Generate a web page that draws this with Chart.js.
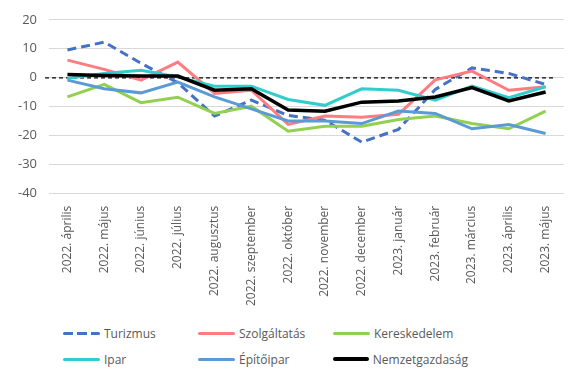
<!DOCTYPE html>
<html>
<head>
<meta charset="utf-8">
<script src="https://cdn.jsdelivr.net/npm/chart.js@4.4.0/dist/chart.umd.min.js"></script>
<style>
  body { margin: 0; background: #fff; font-family: "Open Sans", sans-serif; }
  #wrap { position: relative; width: 580px; height: 379px; }
  #legend {
    position: absolute; left: 63px; top: 320px;
    display: grid; grid-template-columns: 135px 135px 135px; grid-auto-rows: 26px;
    font-size: 12px; color: #595959;
  }
  .item { display: flex; align-items: center; }
  .swatch { width: 37px; height: 3px; margin-right: 4px; border-radius: 2px; }
</style>
</head>
<body>
<div id="wrap">
  <canvas id="chart" width="580" height="310"></canvas>
  <div id="legend"></div>
</div>
<script>
const honapok = [
  "2022. április", "2022. május", "2022. június", "2022. július", "2022. augusztus",
  "2022. szeptember", "2022. október", "2022. november", "2022. december",
  "2023. január", "2023. február", "2023. március", "2023. április", "2023. május"
];

const turizmus       = [9.6, 12.3, 5, -1.7, -13.2, -7.7, -13, -14.6, -22.2, -17.8, -4, 3.4, 1.5, -2.3];
const szolgaltatas   = [6.1, 2.9, -0.8, 5.4, -5.4, -4.3, -16.1, -13.2, -13.6, -12.6, -0.7, 2.3, -4.3, -3.1];
const kereskedelem   = [-6.6, -2.3, -8.6, -6.7, -12.3, -9.8, -18.4, -16.7, -16.7, -14.4, -13.2, -15.8, -17.6, -11.5];
const ipar           = [-0.2, 1.5, 2.6, 0.3, -2.9, -2.9, -7.5, -9.5, -3.8, -4.3, -7.7, -2.9, -6.9, -3.1];
const epitoipar      = [-0.8, -3.8, -5.2, -1.5, -6.6, -10.7, -14.9, -14.9, -15.8, -11.5, -12.3, -17.6, -16.1, -19.2];
const nemzetgazdasag = [1.1, 0.8, 0.6, 0.6, -4.3, -3.8, -11.1, -11.5, -8.4, -8.0, -6.6, -3.4, -8.0, -4.9];

const yMin = -40, yMax = 20, yStep = 10;

const szurke = "#595959";

// szaggatott nulla vonal
const nullaVonal = {
  id: "nullaVonal",
  beforeDatasetsDraw(chart) {
    const { ctx, chartArea, scales } = chart;
    const y = scales.y.getPixelForValue(0);
    ctx.save();
    ctx.strokeStyle = "#000";
    ctx.lineWidth = 1.3;
    ctx.setLineDash([4, 3]);
    ctx.beginPath();
    ctx.moveTo(chartArea.left - 4, y);
    ctx.lineTo(chartArea.right - 8, y);
    ctx.stroke();
    ctx.restore();
  }
};

const sorozat = (label, data, color, order, extra) => Object.assign({
  label, data, borderColor: color, backgroundColor: color,
  borderWidth: 3, pointRadius: 0, tension: 0, order,
  borderCapStyle: "butt", borderJoinStyle: "miter"
}, extra || {});

const datasets = [
  sorozat("Turizmus", turizmus, "#4472C4", 6, { borderDash: [9, 5] }),
  sorozat("Szolgáltatás", szolgaltatas, "#FF7C80", 5),
  sorozat("Kereskedelem", kereskedelem, "#92D050", 4),
  sorozat("Ipar", ipar, "#33CCCC", 3),
  sorozat("Építőipar", epitoipar, "#5B9BD5", 2),
  sorozat("Nemzetgazdaság", nemzetgazdasag, "#000000", 1, { borderWidth: 3.5 })
];

new Chart(document.getElementById("chart"), {
  type: "line",
  data: { labels: honapok, datasets },
  options: {
    responsive: false,
    animation: false,
    layout: { padding: { top: 10, right: 16, left: 6, bottom: 0 } },
    plugins: { legend: { display: false }, tooltip: { enabled: false } },
    scales: {
      x: {
        offset: true,
        grid: { display: false },
        border: { display: false },
        ticks: {
          color: szurke, font: { family: "Open Sans", size: 12 },
          minRotation: 90, maxRotation: 90, autoSkip: false, padding: 4
        }
      },
      y: {
        min: yMin, max: yMax,
        grid: { color: "#D9D9D9", lineWidth: 1, drawTicks: false },
        border: { display: false },
        ticks: {
          stepSize: yStep, color: szurke, padding: 12,
          font: { family: "Open Sans", size: 13 }
        }
      }
    }
  },
  plugins: [nullaVonal]
});

// jelmagyarázat
const legend = document.getElementById("legend");
datasets.forEach(ds => {
  const item = document.createElement("div");
  item.className = "item";
  const sw = document.createElement("span");
  sw.className = "swatch";
  if (ds.borderDash) {
    sw.style.background = "repeating-linear-gradient(to right, " + ds.borderColor + " 0 10px, transparent 10px 14px)";
  } else {
    sw.style.background = ds.borderColor;
  }
  if (ds.label === "Nemzetgazdaság") sw.style.height = "4px";
  const txt = document.createElement("span");
  txt.textContent = ds.label;
  item.appendChild(sw);
  item.appendChild(txt);
  legend.appendChild(item);
});
</script>
</body>
</html>
